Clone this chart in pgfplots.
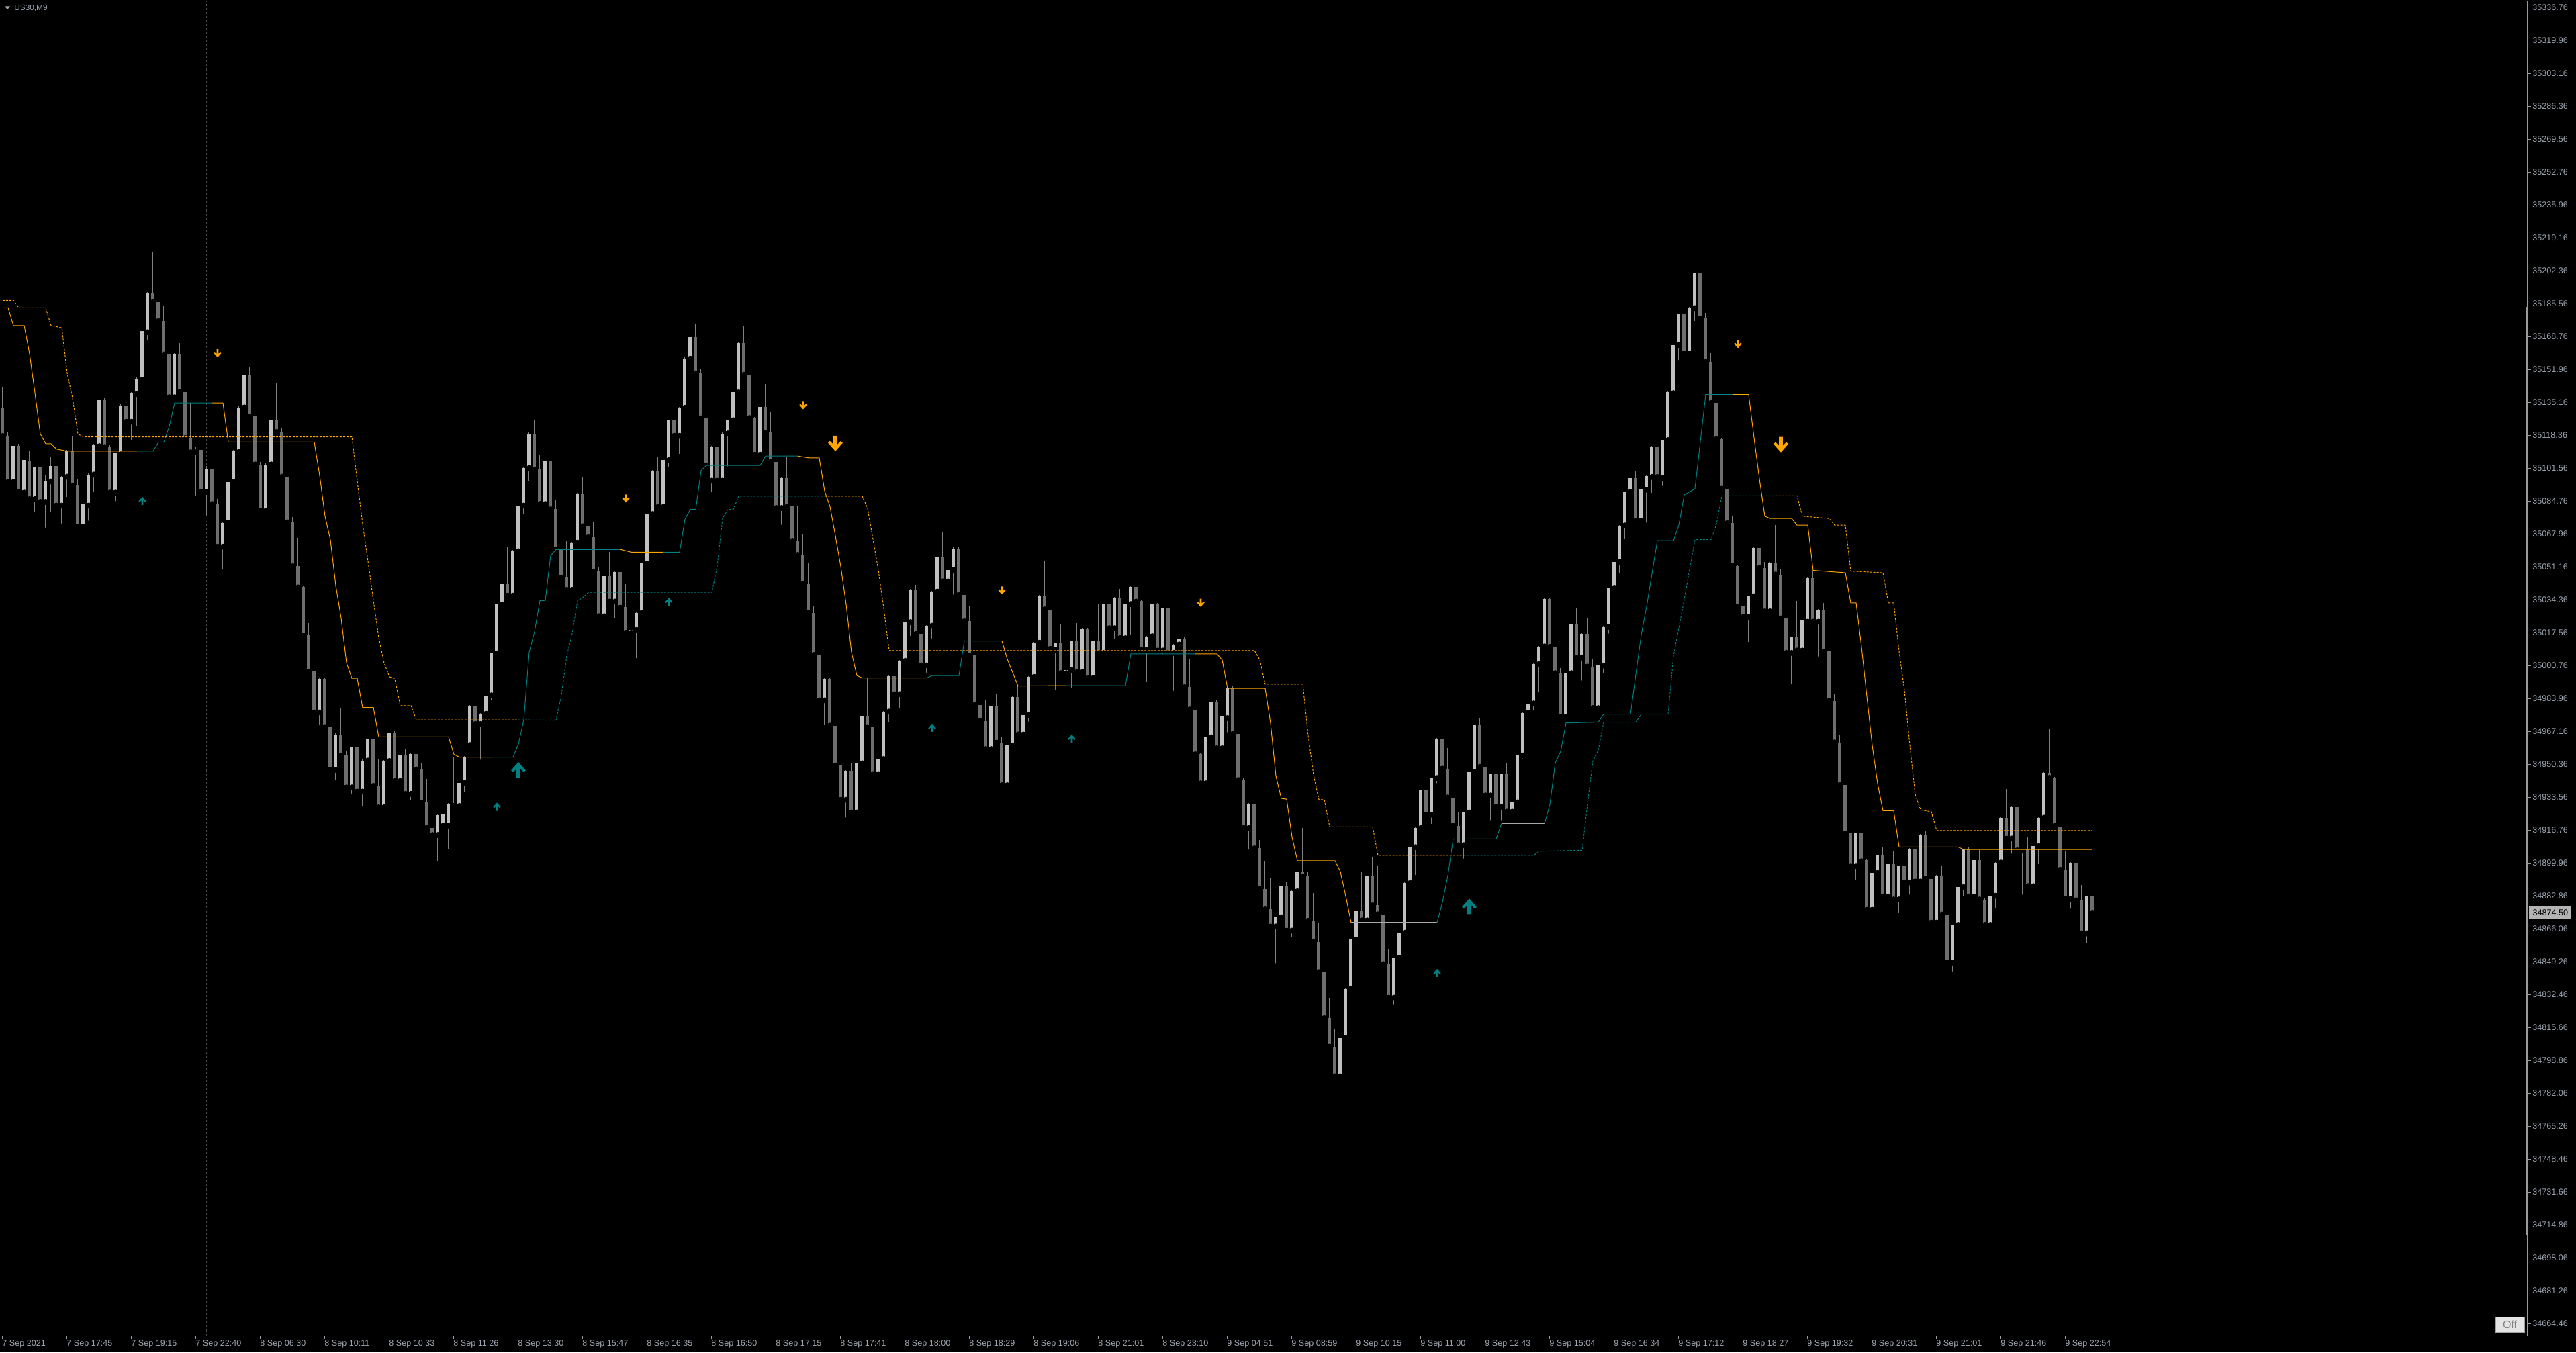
\documentclass[border=0pt]{standalone}
\usepackage{pgfplots}
\pgfplotsset{compat=1.18}
\usepackage{pgfplotstable}
\usepackage{fontspec}
\setmainfont{Liberation Sans}

\definecolor{frame}{HTML}{9A9A9A}
\definecolor{lbl}{HTML}{9BA3AE}
\definecolor{bull}{HTML}{C0C0C0}
\definecolor{bear}{HTML}{6E6E6E}
\definecolor{wick}{HTML}{808080}
\definecolor{stopup}{HTML}{008080}
\definecolor{stopdn}{HTML}{FFA500}
\definecolor{flat}{HTML}{A9A9A9}
\definecolor{sep}{HTML}{4A4A4A}
\definecolor{bidline}{HTML}{3A3A3A}
\definecolor{pricebox}{HTML}{B4B4B4}
\definecolor{tri}{HTML}{AAAAAA}
\definecolor{btnfill}{HTML}{E4E4E4}
\definecolor{btndraw}{HTML}{A0A0A0}
\definecolor{btntext}{HTML}{828282}

% wingdings-like arrows
\pgfdeclareplotmark{arrdn}{%
  \pgfpathmoveto{\pgfqpoint{-0.24\pgfplotmarksize}{\pgfplotmarksize}}%
  \pgfpathlineto{\pgfqpoint{0.24\pgfplotmarksize}{\pgfplotmarksize}}%
  \pgfpathlineto{\pgfqpoint{0.24\pgfplotmarksize}{-0.1\pgfplotmarksize}}%
  \pgfpathlineto{\pgfqpoint{0.68\pgfplotmarksize}{0.34\pgfplotmarksize}}%
  \pgfpathlineto{\pgfqpoint{0.92\pgfplotmarksize}{0.1\pgfplotmarksize}}%
  \pgfpathlineto{\pgfqpoint{0pt}{-0.95\pgfplotmarksize}}%
  \pgfpathlineto{\pgfqpoint{-0.92\pgfplotmarksize}{0.1\pgfplotmarksize}}%
  \pgfpathlineto{\pgfqpoint{-0.68\pgfplotmarksize}{0.34\pgfplotmarksize}}%
  \pgfpathlineto{\pgfqpoint{-0.24\pgfplotmarksize}{-0.1\pgfplotmarksize}}%
  \pgfpathclose\pgfusepathqfill}
\pgfdeclareplotmark{arrup}{%
  \pgfpathmoveto{\pgfqpoint{-0.24\pgfplotmarksize}{-\pgfplotmarksize}}%
  \pgfpathlineto{\pgfqpoint{0.24\pgfplotmarksize}{-\pgfplotmarksize}}%
  \pgfpathlineto{\pgfqpoint{0.24\pgfplotmarksize}{0.1\pgfplotmarksize}}%
  \pgfpathlineto{\pgfqpoint{0.68\pgfplotmarksize}{-0.34\pgfplotmarksize}}%
  \pgfpathlineto{\pgfqpoint{0.92\pgfplotmarksize}{-0.1\pgfplotmarksize}}%
  \pgfpathlineto{\pgfqpoint{0pt}{0.95\pgfplotmarksize}}%
  \pgfpathlineto{\pgfqpoint{-0.92\pgfplotmarksize}{-0.1\pgfplotmarksize}}%
  \pgfpathlineto{\pgfqpoint{-0.68\pgfplotmarksize}{-0.34\pgfplotmarksize}}%
  \pgfpathlineto{\pgfqpoint{-0.24\pgfplotmarksize}{0.1\pgfplotmarksize}}%
  \pgfpathclose\pgfusepathqfill}

% US30, M9 bars: index open high low close
\pgfplotstableread{
i o h l c
0 35132.1 35143.1 35116.5 35117.9
1 35118.1 35119.6 35092.6 35094.4
2 35094.4 35113.4 35088.2 35112.9
3 35112.9 35113.8 35087.4 35089.4
4 35089.0 35106.1 35080.7 35105.7
5 35105.5 35110.2 35083.2 35085.7
6 35085.7 35102.3 35077.4 35102.3
7 35102.3 35109.6 35083.2 35084.3
8 35084.3 35097.8 35069.7 35094.9
9 35094.7 35107.1 35077.4 35102.7
10 35102.7 35107.1 35080.1 35082.4
11 35082.4 35097.3 35071.8 35097.1
12 35097.1 35110.9 35085.3 35110.2
13 35110.2 35117.7 35090.5 35092.6
14 35092.8 35096.1 35071.2 35071.6
15 35071.6 35084.3 35057.6 35083.2
16 35082.4 35098.8 35073.2 35098.2
17 35098.2 35114.0 35088.0 35113.4
18 35112.7 35136.8 35111.3 35136.4
19 35136.4 35137.7 35111.3 35112.3
20 35112.7 35113.4 35088.4 35089.0
21 35089.0 35109.4 35083.2 35109.0
22 35108.6 35134.1 35108.2 35133.3
23 35133.3 35150.4 35123.8 35125.2
24 35125.2 35140.4 35114.4 35139.8
25 35139.4 35147.7 35121.7 35147.0
26 35146.6 35171.6 35146.0 35171.4
27 35170.9 35191.3 35165.3 35190.9
28 35190.9 35211.7 35185.1 35186.3
29 35186.3 35201.7 35175.7 35176.6
30 35176.8 35184.7 35159.1 35159.5
31 35159.7 35164.9 35137.3 35137.7
32 35137.7 35160.1 35134.8 35159.7
33 35159.7 35165.3 35139.4 35140.4
34 35140.4 35141.8 35116.5 35116.9
35 35116.9 35134.8 35109.2 35109.6
36 35109.6 35112.3 35085.7 35110.9
37 35110.9 35115.4 35089.0 35089.4
38 35089.4 35102.5 35075.9 35101.1
39 35101.3 35108.2 35082.4 35083.2
40 35083.2 35085.7 35060.3 35061.4
41 35061.4 35074.0 35048.3 35073.6
42 35073.6 35094.9 35069.3 35094.4
43 35094.4 35110.7 35093.6 35110.0
44 35109.8 35133.1 35107.1 35132.5
45 35132.5 35149.7 35122.7 35148.9
46 35148.9 35153.1 35127.5 35127.9
47 35128.1 35128.9 35102.9 35103.4
48 35103.4 35104.8 35079.1 35079.7
49 35079.7 35104.0 35078.0 35103.4
50 35103.4 35126.2 35100.7 35125.8
51 35125.8 35145.2 35119.2 35120.0
52 35120.0 35122.3 35096.7 35097.1
53 35097.1 35098.8 35073.4 35073.8
54 35073.8 35076.6 35051.0 35051.4
55 35051.6 35065.8 35040.0 35040.6
56 35040.8 35041.2 35015.6 35016.1
57 35016.1 35022.5 34996.9 34997.6
58 34998.0 35002.1 34976.1 34976.8
59 34976.8 34994.4 34968.9 34993.8
60 34993.8 34994.4 34968.9 34969.3
61 34969.3 34972.6 34947.0 34947.5
62 34947.5 34966.0 34940.8 34965.5
63 34965.5 34979.3 34954.3 34954.7
64 34954.7 34957.4 34938.1 34938.5
65 34938.5 34959.3 34933.9 34958.9
66 34958.9 34961.6 34936.0 34936.4
67 34936.4 34952.9 34927.3 34952.2
68 34952.2 34963.4 34951.8 34963.0
69 34963.0 34963.7 34938.7 34939.3
70 34939.3 34953.3 34927.7 34928.3
71 34928.3 34952.4 34926.9 34952.0
72 34952.0 34966.8 34951.6 34966.4
73 34966.4 34967.4 34941.4 34941.8
74 34941.8 34955.4 34929.4 34954.7
75 34954.7 34958.0 34934.6 34935.2
76 34935.2 34956.4 34930.4 34955.6
77 34955.6 34973.0 34947.0 34947.7
78 34947.7 34950.6 34930.4 34930.8
79 34930.8 34942.9 34917.5 34917.9
80 34917.9 34939.1 34913.8 34914.2
81 34914.2 34924.6 34899.2 34924.2
82 34918.9 34943.9 34918.5 34924.8
83 34918.9 34930.4 34905.5 34929.8
84 34929.8 34953.9 34928.3 34929.0
85 34929.0 34941.2 34915.9 34940.8
86 34940.8 34954.5 34934.6 34953.9
87 34960.1 34980.7 34959.5 34980.1
88 34980.1 34995.9 34970.5 34970.9
89 34970.9 34976.6 34951.2 34976.1
90 34976.1 34985.9 34960.5 34985.5
91 34985.5 35007.3 34981.8 35006.9
92 35006.9 35032.3 35006.3 35031.9
93 35031.9 35043.3 35017.7 35042.7
94 35042.7 35061.4 35035.8 35036.4
95 35036.4 35059.7 35033.9 35059.1
96 35059.1 35083.0 35058.3 35082.4
97 35082.4 35102.1 35076.6 35101.5
98 35101.5 35119.6 35093.6 35119.0
99 35119.2 35126.2 35100.3 35100.8
100 35101.2 35108.5 35082.8 35083.2
101 35083.2 35105.4 35079.8 35105.0
102 35105.0 35105.4 35080.0 35080.5
103 35080.7 35085.1 35059.6 35060.0
104 35060.0 35070.9 35045.0 35045.5
105 35045.7 35064.4 35039.0 35039.4
106 35039.4 35064.0 35038.1 35063.5
107 35063.5 35088.9 35063.0 35088.4
108 35088.4 35096.8 35071.3 35071.8
109 35071.8 35091.2 35065.8 35066.2
110 35066.2 35074.0 35048.2 35048.7
111 35048.7 35051.3 35025.5 35025.9
112 35025.9 35046.8 35021.5 35046.4
113 35046.4 35058.6 35033.0 35033.4
114 35033.4 35048.7 35023.3 35048.3
115 35048.3 35055.6 35029.9 35030.3
116 35030.6 35042.5 35017.0 35017.5
117 35017.5 35019.3 34993.5 35018.9
118 35018.9 35028.0 35003.0 35027.6
119 35027.6 35053.4 35027.2 35053.0
120 35052.7 35078.5 35052.3 35078.1
121 35078.1 35100.4 35075.3 35100.0
122 35100.0 35107.1 35081.3 35081.7
123 35081.7 35106.1 35080.5 35105.7
124 35105.6 35126.4 35100.8 35126.0
125 35126.0 35143.2 35117.6 35118.0
126 35118.0 35132.9 35107.3 35132.5
127 35132.3 35158.0 35132.0 35157.6
128 35157.4 35169.0 35143.2 35168.6
129 35168.6 35175.1 35149.5 35149.9
130 35149.9 35152.3 35126.5 35126.9
131 35127.1 35127.5 35102.5 35102.9
132 35095.1 35113.0 35087.7 35112.6
133 35112.6 35119.9 35094.7 35095.1
134 35095.1 35119.6 35094.2 35119.2
135 35119.2 35126.4 35101.0 35126.0
136 35126.0 35140.8 35115.4 35140.4
137 35140.2 35165.8 35140.0 35165.4
138 35165.4 35174.2 35148.8 35149.2
139 35149.4 35152.5 35126.7 35127.1
140 35127.4 35127.8 35108.0 35108.4
141 35108.4 35133.3 35108.0 35132.9
142 35132.9 35144.4 35119.0 35119.4
143 35119.6 35129.9 35104.3 35104.7
144 35104.7 35105.1 35080.8 35081.2
145 35081.2 35096.9 35071.1 35096.5
146 35096.5 35107.1 35081.3 35081.7
147 35082.1 35082.5 35064.0 35064.4
148 35064.6 35082.3 35056.8 35057.2
149 35057.4 35067.6 35042.1 35042.5
150 35042.5 35053.0 35027.2 35027.6
151 35027.6 35031.3 35005.7 35006.1
152 35006.1 35008.4 34982.6 34983.0
153 34983.0 34994.3 34969.0 34993.9
154 34993.9 34994.3 34969.6 34970.0
155 34970.0 34975.1 34949.3 34949.7
156 34949.7 34950.1 34931.8 34932.2
157 34932.2 34947.3 34921.7 34946.9
158 34946.9 34950.6 34925.3 34925.7
159 34925.7 34951.2 34925.3 34950.8
160 34950.8 34975.3 34950.4 34974.9
161 34974.9 34994.4 34968.9 34969.3
162 34969.3 34969.7 34944.9 34945.3
163 34945.3 34953.4 34927.8 34953.0
164 34953.0 34977.6 34952.6 34977.2
165 34977.2 34995.6 34970.4 34995.2
166 34995.2 35002.6 34985.7 34986.1
167 34986.1 35003.5 34977.7 35003.1
168 35003.1 35023.3 34997.9 35022.9
169 35022.9 35039.8 35014.5 35039.4
170 35039.4 35042.0 35016.4 35016.8
171 35016.8 35025.9 35000.4 35000.8
172 35000.8 35021.4 34995.6 35021.0
173 35021.0 35038.9 35013.1 35038.5
174 35038.5 35056.7 35032.0 35056.3
175 35056.3 35068.8 35043.3 35043.7
176 35043.7 35049.9 35024.1 35049.5
177 35049.5 35061.0 35035.5 35060.6
178 35060.6 35061.6 35036.4 35036.8
179 35036.8 35048.3 35022.9 35023.3
180 35023.3 35031.0 35005.4 35005.8
181 35005.8 35006.2 34980.3 34980.7
182 34980.7 34997.5 34972.1 34972.5
183 34972.5 34983.3 34957.7 34958.1
184 34958.1 34980.2 34955.0 34979.8
185 34979.8 34986.5 34961.0 34961.4
186 34961.4 34964.6 34939.2 34939.6
187 34939.6 34960.3 34934.8 34959.9
188 34959.9 34985.1 34959.5 34984.7
189 34984.7 34990.5 34965.1 34965.5
190 34965.5 34975.9 34950.6 34975.5
191 34975.5 34995.3 34970.7 34994.9
192 34994.9 35012.8 34994.5 35012.4
193 35012.4 35036.8 35011.0 35036.4
194 35036.4 35054.2 35029.0 35029.4
195 35029.4 35033.8 35008.9 35009.3
196 35008.8 35012.0 34987.0 35012.0
197 35012.0 35021.7 34996.4 34996.8
198 34996.8 34998.6 34973.5 34998.4
199 34998.4 35013.6 34988.0 35013.4
200 35013.4 35022.3 34997.0 34997.4
201 34997.4 35019.5 34995.3 35019.2
202 35019.2 35019.6 34994.0 34994.3
203 34994.3 35013.6 34988.0 35013.4
204 35013.4 35032.5 35006.8 35007.2
205 35007.2 35032.4 35006.8 35032.1
206 35032.1 35044.8 35019.4 35019.8
207 35019.8 35035.7 35013.0 35035.4
208 35035.4 35040.0 35014.3 35014.7
209 35014.7 35032.8 35008.8 35032.5
210 35032.1 35041.1 35015.1 35040.8
211 35040.8 35058.7 35033.0 35033.4
212 35033.8 35034.2 35008.4 35008.8
213 35008.8 35016.0 34990.7 35015.7
214 35015.7 35032.4 35006.8 35032.1
215 35032.1 35032.7 35008.0 35008.4
216 35008.4 35030.3 35005.1 35030.0
217 35030.0 35032.3 35006.8 35007.2
218 35007.2 35011.8 34986.4 35011.5
219 35011.5 35014.7 34989.1 35014.4
220 35014.4 35015.1 34989.3 34989.7
221 34989.7 35004.1 34977.9 34978.3
222 34978.3 34980.3 34955.0 34955.4
223 34955.4 34955.8 34940.2 34940.6
224 34940.6 34964.4 34939.2 34964.1
225 34964.1 34982.7 34963.8 34982.4
226 34982.4 34983.3 34958.1 34958.5
227 34958.5 34975.0 34948.5 34974.7
228 34973.9 34989.6 34965.2 34989.3
229 34989.3 34990.1 34965.4 34965.8
230 34965.8 34966.1 34941.9 34942.3
231 34942.3 34943.3 34917.4 34917.8
232 34917.8 34930.6 34905.3 34930.3
233 34930.3 34932.5 34907.0 34907.4
234 34907.4 34911.7 34886.4 34886.8
235 34886.8 34901.1 34875.8 34876.2
236 34876.2 34892.4 34867.1 34867.5
237 34867.5 34872.5 34847.3 34872.2
238 34872.2 34888.5 34863.3 34888.2
239 34888.2 34890.3 34865.0 34865.4
240 34865.4 34885.8 34860.6 34885.5
241 34885.5 34895.8 34869.5 34895.5
242 34895.5 34918.0 34892.4 34892.8
243 34893.0 34895.5 34870.0 34870.4
244 34870.4 34884.5 34859.2 34859.6
245 34859.6 34869.5 34843.8 34844.2
246 34844.4 34845.6 34820.3 34820.7
247 34820.7 34831.1 34805.7 34806.1
248 34806.1 34815.5 34790.6 34791.0
249 34791.0 34811.0 34785.7 34810.7
250 34810.7 34836.0 34810.3 34835.7
251 34835.7 34861.1 34835.3 34860.8
252 34860.8 34876.1 34850.8 34875.8
253 34875.8 34895.5 34870.2 34870.6
254 34870.6 34893.7 34868.5 34893.4
255 34893.4 34903.2 34877.9 34878.3
256 34878.3 34898.2 34873.3 34873.7
257 34873.7 34874.1 34847.9 34848.3
258 34848.3 34856.0 34830.7 34831.1
259 34831.1 34851.8 34826.3 34851.5
260 34851.5 34864.6 34839.4 34864.3
261 34864.3 34890.0 34864.0 34889.7
262 34889.7 34908.3 34883.0 34908.0
263 34908.0 34918.1 34892.4 34917.8
264 34917.8 34937.4 34917.5 34937.1
265 34937.1 34950.2 34924.2 34924.6
266 34924.6 34943.6 34918.4 34943.3
267 34943.3 34963.8 34939.2 34963.5
268 34963.5 34973.1 34947.7 34948.1
269 34948.1 34958.5 34933.0 34933.4
270 34933.4 34944.4 34918.6 34919.0
271 34919.0 34926.1 34908.6 34909.0
272 34909.0 34926.0 34900.7 34925.7
273 34925.7 34946.8 34921.5 34946.5
274 34946.5 34970.7 34946.2 34970.4
275 34970.4 34974.1 34948.6 34949.0
276 34949.0 34959.6 34934.0 34934.4
277 34934.4 34945.5 34920.3 34945.2
278 34945.2 34953.7 34928.2 34928.6
279 34928.6 34945.5 34920.3 34945.2
280 34945.2 34951.0 34925.7 34926.1
281 34926.1 34931.2 34905.9 34930.9
282 34930.9 34955.1 34930.6 34954.8
283 34954.8 34976.9 34951.6 34976.6
284 34976.6 34981.7 34956.4 34981.4
285 34981.4 35001.8 34976.6 35001.5
286 35001.5 35010.8 34985.5 35010.5
287 35010.5 35035.1 35010.2 35034.8
288 35034.8 35035.4 35009.9 35010.3
289 35010.3 35015.1 34996.4 34996.8
290 34996.8 34999.5 34974.1 34974.5
291 34974.5 34997.1 34974.1 34996.8
292 34996.8 35022.0 34996.4 35021.7
293 35021.7 35030.1 35004.4 35004.8
294 35004.8 35017.2 34991.6 35016.9
295 35016.9 35025.3 34999.8 35000.2
296 35000.2 35004.3 34978.6 34979.0
297 34979.0 35001.0 34975.5 35000.7
298 35000.7 35020.8 34995.4 35020.5
299 35020.5 35040.7 35015.6 35040.4
300 35040.4 35054.0 35028.4 35053.7
301 35053.7 35072.5 35046.5 35072.2
302 35072.2 35089.6 35064.0 35089.3
303 35089.3 35096.6 35088.0 35096.3
304 35096.3 35099.9 35074.2 35074.6
305 35074.6 35090.8 35065.0 35090.5
306 35090.5 35097.8 35072.2 35097.5
307 35097.0 35112.9 35087.4 35112.6
308 35112.6 35121.6 35096.6 35097.0
309 35096.5 35116.1 35091.0 35115.8
310 35115.8 35140.6 35115.5 35140.3
311 35139.8 35164.7 35139.5 35164.4
312 35164.4 35180.3 35155.2 35180.0
313 35180.0 35185.1 35159.7 35160.1
314 35160.1 35183.9 35158.4 35183.6
315 35183.2 35201.3 35175.2 35201.0
316 35201.0 35202.9 35177.5 35177.9
317 35177.9 35180.8 35155.3 35155.7
318 35155.7 35160.1 35134.4 35134.8
319 35134.8 35139.1 35115.9 35116.3
320 35116.3 35116.7 35090.6 35091.0
321 35091.0 35097.9 35073.0 35073.4
322 35073.4 35077.0 35051.3 35051.7
323 35051.7 35052.1 35030.4 35030.8
324 35030.8 35054.9 35025.1 35025.5
325 35025.5 35036.4 35011.3 35036.1
326 35036.1 35061.2 35035.8 35060.9
327 35060.9 35075.3 35050.1 35050.5
328 35050.5 35053.7 35028.0 35028.4
329 35028.4 35053.5 35027.9 35053.2
330 35053.2 35072.4 35046.8 35047.2
331 35047.2 35050.1 35024.4 35024.8
332 35024.8 35032.5 35006.8 35007.2
333 35007.2 35015.5 34989.9 35015.2
334 35015.2 35033.7 35008.0 35008.4
335 35008.4 35023.9 34998.3 35023.6
336 35023.1 35045.8 35022.8 35045.5
337 35045.5 35048.9 35022.7 35023.1
338 35023.1 35029.7 35003.9 35029.4
339 35029.4 35032.7 35007.5 35007.9
340 35007.9 35008.3 34982.3 34982.7
341 34982.7 34986.3 34961.1 34961.5
342 34961.5 34965.1 34939.4 34939.8
343 34939.8 34940.2 34914.6 34915.0
344 34915.0 34915.4 34898.0 34898.4
345 34898.4 34915.6 34890.0 34915.3
346 34915.3 34926.1 34900.4 34900.8
347 34901.3 34901.7 34875.6 34876.0
348 34876.0 34895.1 34869.5 34894.8
349 34894.8 34904.0 34894.5 34903.7
350 34903.7 34908.1 34882.4 34882.8
351 34882.8 34899.9 34874.3 34899.6
352 34899.6 34906.1 34880.9 34881.3
353 34881.3 34898.5 34873.1 34898.2
354 34898.2 34908.1 34889.6 34890.0
355 34890.0 34907.6 34882.3 34907.3
356 34907.3 34916.0 34890.1 34890.5
357 34890.5 34914.8 34890.1 34914.5
358 34914.5 34916.5 34891.5 34891.9
359 34891.9 34894.8 34869.1 34869.5
360 34869.5 34893.9 34869.1 34893.6
361 34893.6 34898.4 34873.2 34873.6
362 34873.6 34874.0 34848.7 34849.1
363 34849.1 34868.6 34843.1 34868.3
364 34868.3 34887.9 34862.8 34887.6
365 34887.6 34907.1 34881.6 34906.8
366 34906.8 34908.1 34882.4 34882.8
367 34882.8 34901.6 34876.8 34901.3
368 34901.3 34906.4 34880.9 34881.3
369 34881.3 34881.7 34867.9 34868.3
370 34868.3 34883.5 34858.2 34883.2
371 34883.2 34900.4 34875.6 34900.1
372 34900.1 34923.3 34897.7 34923.0
373 34923.0 34937.7 34912.0 34912.4
374 34912.4 34928.8 34903.2 34928.5
375 34928.5 34931.4 34906.0 34906.4
376 34906.4 34907.2 34882.3 34906.9
377 34906.9 34912.9 34887.7 34888.1
378 34888.1 34908.8 34884.0 34908.5
379 34908.5 34923.3 34898.0 34923.0
380 34923.0 34946.4 34922.7 34946.1
381 34946.1 34968.2 34943.0 34943.4
382 34943.4 34943.8 34918.5 34918.9
383 34918.2 34921.3 34896.1 34896.5
384 34896.5 34906.1 34881.2 34881.6
385 34881.6 34900.4 34875.1 34900.1
386 34900.1 34901.3 34880.5 34880.9
387 34880.9 34888.8 34863.6 34864.0
388 34864.0 34883.1 34857.5 34882.8
389 34882.8 34890.0 34874.1 34874.5
}\candles

\begin{document}
\begin{tikzpicture}
\useasboundingbox (0,0) rectangle (1918pt,1007pt);
\fill[black] (0,0) rectangle (1918pt,1007pt);
\begin{axis}[
  at={(1pt,12.5pt)}, anchor=south west,
  scale only axis, width=1881pt, height=993.5pt,
  xmin=-0.25, xmax=470, ymin=34658.66, ymax=35339.85,
  clip mode=individual,
  axis line style={draw=frame, line width=0.5pt},
  tick style={draw=frame, line width=0.5pt},
  tick align=outside, major tick length=2.5pt,
  xtick pos=left, ytick pos=right, yticklabel pos=right,
  ticklabel style={font=\fontsize{6.3}{7}\selectfont, text=lbl},
  xticklabel style={anchor=north west, inner sep=0pt, xshift=-0.5pt, yshift=-0.5pt},
  yticklabel style={anchor=west, inner sep=0pt, xshift=1pt},
  xtick={0,12,24,36,48,60,72,84,96,108,120,132,144,156,168,180,192,204,216,228,240,252,264,276,288,300,312,324,336,348,360,372,384},
  xticklabels={7 Sep 2021,7 Sep 17:45,7 Sep 19:15,7 Sep 22:40,8 Sep 06:30,8 Sep 10:11,8 Sep 10:33,8 Sep 11:26,8 Sep 13:30,8 Sep 15:47,8 Sep 16:35,8 Sep 16:50,8 Sep 17:15,8 Sep 17:41,8 Sep 18:00,8 Sep 18:29,8 Sep 19:06,8 Sep 21:01,8 Sep 23:10,9 Sep 04:51,9 Sep 08:59,9 Sep 10:15,9 Sep 11:00,9 Sep 12:43,9 Sep 15:04,9 Sep 16:34,9 Sep 17:12,9 Sep 18:27,9 Sep 19:32,9 Sep 20:31,9 Sep 21:01,9 Sep 21:46,9 Sep 22:54},
  ytick={35336.76,35319.96,35303.16,35286.36,35269.56,35252.76,35235.96,35219.16,35202.36,35185.56,35168.76,35151.96,35135.16,35118.36,35101.56,35084.76,35067.96,35051.16,35034.36,35017.56,35000.76,34983.96,34967.16,34950.36,34933.56,34916.76,34899.96,34883.16,34866.36,34849.56,34832.76,34815.96,34799.16,34782.36,34765.56,34748.76,34731.96,34715.16,34698.36,34681.56,34664.76},
  yticklabels={35336.76,35319.96,35303.16,35286.36,35269.56,35252.76,35235.96,35219.16,35202.36,35185.56,35168.76,35151.96,35135.16,35118.36,35101.56,35084.76,35067.96,35051.16,35034.36,35017.56,35000.76,34983.96,34967.16,34950.36,34933.56,34916.76,34899.96,34882.86,34866.06,34849.26,34832.46,34815.66,34798.86,34782.06,34765.26,34748.46,34731.66,34714.86,34698.06,34681.26,34664.46},
]
% day separators and bid line
\addplot[sep, line width=0.5pt, dash pattern=on 1.5pt off 1.5pt] coordinates {(37.9,34658.66) (37.9,35339.85)};
\addplot[sep, line width=0.5pt, dash pattern=on 1.5pt off 1.5pt] coordinates {(216.9,34658.66) (216.9,35339.85)};
\addplot[bidline, line width=0.5pt] coordinates {(-0.25,34874.5) (470,34874.5)};

% wicks
\addplot[only marks, mark=none, error bars/.cd, y dir=plus, y explicit, error mark=none,
  error bar style={draw=wick, line width=0.5pt}]
  table[x=i, y=l, y error expr=\thisrow{h}-\thisrow{l}] {\candles};
% bear bodies
\addplot[only marks, mark=none, x filter/.expression={\thisrow{c}<\thisrow{o} ? x : nan},
  error bars/.cd, y dir=plus, y explicit, error mark=none,
  error bar style={draw=bear, line width=2.5pt}]
  table[x=i, y=c, y error expr=\thisrow{o}-\thisrow{c}] {\candles};
% bull bodies
\addplot[only marks, mark=none, x filter/.expression={\thisrow{c}>=\thisrow{o} ? x : nan},
  error bars/.cd, y dir=plus, y explicit, error mark=none,
  error bar style={draw=bull, line width=2.5pt}]
  table[x=i, y=o, y error expr=\thisrow{c}-\thisrow{o}] {\candles};

% trailing stop, solid
\addplot[stopdn, line width=0.5pt] coordinates {(0,35183.4) (1,35183.4) (2,35174.3) (4,35174.3) (5,35160) (6,35140) (7,35119) (8,35114) (9,35114) (10,35111.3) (12,35110.2) (25,35110.2)};
\addplot[stopup, line width=0.5pt] coordinates {(25,35110.2) (28,35110.2) (29,35114.8) (30,35114.8) (31,35122.7) (32,35134.8) (39,35134.8)};
\addplot[stopdn, line width=0.5pt] coordinates {(39,35134.8) (41,35134.8) (42,35114.8) (58,35114.8) (59,35097.8) (60,35077.0) (61,35064.9) (62,35041.6) (63,35025.0) (64,35002.1) (65,34994.2) (66,34994.2) (67,34979.3) (69,34979.3) (70,34964.3) (83,34964.3) (84,34955.4) (85,34954.0) (91,34954.0)};
\addplot[stopup, line width=0.5pt] coordinates {(91,34954.0) (95,34954.0) (96,34960.6) (97,34973.0) (98,35007.5) (99,35018.0) (100,35033.8) (101,35034.0) (102,35056.9) (103,35060.0) (115,35060.0)};
\addplot[stopdn, line width=0.5pt] coordinates {(115,35060.0) (117,35058.6) (123,35058.6)};
\addplot[stopup, line width=0.5pt] coordinates {(123,35058.6) (126,35058.6) (127,35075.4) (128,35080.5) (129,35080.5) (130,35100.3) (131,35102.9) (141,35102.9) (142,35107.7) (148,35107.7)};
\addplot[stopdn, line width=0.5pt] coordinates {(148,35107.7) (150,35106.8) (152,35106.8) (153,35089.8) (154,35081.9) (155,35067.0) (156,35051.3) (157,35032.0) (158,35007.5) (159,34995.6) (160,34994.4) (172,34994.4)};
\addplot[stopup, line width=0.5pt] coordinates {(172,34994.4) (173,34995.6) (178,34995.6) (179,35013.3) (186,35013.3)};
\addplot[stopdn, line width=0.5pt] coordinates {(186,35013.3) (187,35004.0) (189,34990.3) (198,34990.5)};
\addplot[stopup, line width=0.5pt] coordinates {(198,34990.5) (209,34990.5) (210,35006.7) (222,35006.7)};
\addplot[stopdn, line width=0.5pt] coordinates {(222,35006.7) (226,35006.7) (227,35003.6) (228,34989.1) (235,34989.1) (236,34971.4) (237,34944.4) (238,34932.9) (239,34932.5) (240,34913.2) (241,34901.1) (248,34901.1) (249,34895.5) (250,34883.0) (251,34869.5)};
\addplot[flat, line width=0.5pt] coordinates {(251,34869.5) (267,34869.5)};
\addplot[stopup, line width=0.5pt] coordinates {(267,34869.5) (268,34879.9) (269,34893.4) (270,34912.2) (278,34912.2) (279,34920.1)};
\addplot[flat, line width=0.5pt] coordinates {(279,34920.1) (287,34920.1)};
\addplot[stopup, line width=0.5pt] coordinates {(287,34920.1) (288,34929.8) (289,34951.0) (290,34956.9) (291,34971.4) (297,34971.8) (298,34975.9) (303,34975.9) (305,35016.4) (306,35030.8) (308,35064.5) (311,35064.5) (312,35072.4) (313,35087.9) (315,35091.0) (317,35139.1) (322,35139.1)};
\addplot[stopdn, line width=0.5pt] coordinates {(322,35139.1) (325,35139.1) (326,35117) (327,35096) (328,35077.0) (329,35075.8) (333,35075.8) (334,35072.4) (336,35072.4) (337,35049.3) (343,35048.1) (344,35032.7) (345,35032.7) (346,35010.3) (347,34985) (348,34960) (349,34940.5) (350,34926.6) (352,34926.6) (353,34908.1) (364,34908.1) (365,34906.8) (389,34906.8)};

% trailing stop, dotted
\addplot[stopdn, line width=0.5pt, dash pattern=on 1.5pt off 1pt] coordinates {(0,35187.2) (2,35187.2) (3,35183.4) (8,35183.4) (9,35174.3) (11,35173.2) (12,35150) (13,35137.3) (14,35119.0) (15,35117.5) (65,35117.5) (66,35095) (67,35073) (68,35054) (69,35034) (70,35015) (71,35002) (72,34995) (73,34994) (74,34980.3) (76,34980.3) (77,34973.0) (96,34973.0)};
\addplot[stopup, line width=0.5pt, dash pattern=on 1.5pt off 1pt] coordinates {(96,34973.0) (103,34972.8) (104,34985.6) (105,35005.7) (106,35017.1) (107,35033.8) (108,35035.5) (109,35038.1) (132,35038.1) (133,35051.3) (134,35075.8) (135,35080.5) (136,35080.5) (137,35087.2) (153,35087.2)};
\addplot[stopdn, line width=0.5pt, dash pattern=on 1.5pt off 1pt] coordinates {(153,35087.2) (160,35087.2) (161,35081.0) (162,35065.3) (163,35049.5) (164,35030) (165,35008.4) (233,35008.4) (234,35003.6) (235,34991.2) (242,34991.2) (243,34965) (244,34945) (245,34932.3) (246,34932.3) (247,34918.4) (255,34918.4) (256,34903.8) (272,34903.8)};
\addplot[stopup, line width=0.5pt, dash pattern=on 1.5pt off 1pt] coordinates {(272,34903.8) (285,34903.8) (286,34905.9) (294,34906.4) (295,34930) (296,34952.1) (297,34957.4) (298,34971.8) (304,34971.8) (305,34975.9) (310,34975.9) (311,35005.5) (313,35034.4) (315,35065.0) (318,35065.0) (319,35072.9) (320,35087.4) (330,35087.4)};
\addplot[stopdn, line width=0.5pt, dash pattern=on 1.5pt off 1pt] coordinates {(330,35087.4) (334,35087.4) (335,35077.0) (340,35075.8) (341,35072.4) (343,35072.4) (344,35048.9) (350,35048.1) (351,35032.7) (352,35032.7) (353,35008) (354,34988) (355,34960) (356,34935) (357,34927) (359,34926.1) (360,34916.5) (389,34916.5)};

% signal arrows
\addplot[only marks, mark=arrdn, mark size=3.1pt, color=stopdn] coordinates {(40,35160.1) (116,35086.0) (149,35133.6) (186,35039.0) (223,35032.7) (323,35164.8)};
\addplot[only marks, mark=arrdn, mark size=5.9pt, color=stopdn] coordinates {(155,35114.0) (331,35113.4)};
\addplot[only marks, mark=arrup, mark size=3.1pt, color=stopup] coordinates {(26,35084.9) (92,34928.7) (124,35033.4) (173,34969.0) (199,34963.5) (267,34843.9)};
\addplot[only marks, mark=arrup, mark size=5.9pt, color=stopup] coordinates {(96,34947.6) (273,34877.9)};

% current price label
\node[fill=pricebox, text=black, inner sep=0pt, minimum width=31.5pt, minimum height=10pt, anchor=west, font=\fontsize{6.3}{7}\selectfont] at (axis cs:470.25,34874.5) {34874.50};
\end{axis}
% scale bar on the price axis
\fill[frame] (1881pt,87pt) rectangle (1882.5pt,778.5pt);
% symbol caption
\fill[tri] (3.5pt,1002.3pt) -- (7.5pt,1002.3pt) -- (5.5pt,1000pt) -- cycle;
\node[anchor=west, inner sep=0pt, text=lbl, font=\fontsize{5.9}{7}\selectfont] at (10.5pt,1000.8pt) {US30,M9};
% one-click button
\draw[fill=btnfill, draw=btndraw, line width=0.5pt] (1858pt,15pt) rectangle (1879.5pt,26.5pt);
\node[inner sep=0pt, text=btntext, font=\fontsize{8}{9}\selectfont] at (1868.75pt,20.75pt) {Off};
\end{tikzpicture}
\end{document}
